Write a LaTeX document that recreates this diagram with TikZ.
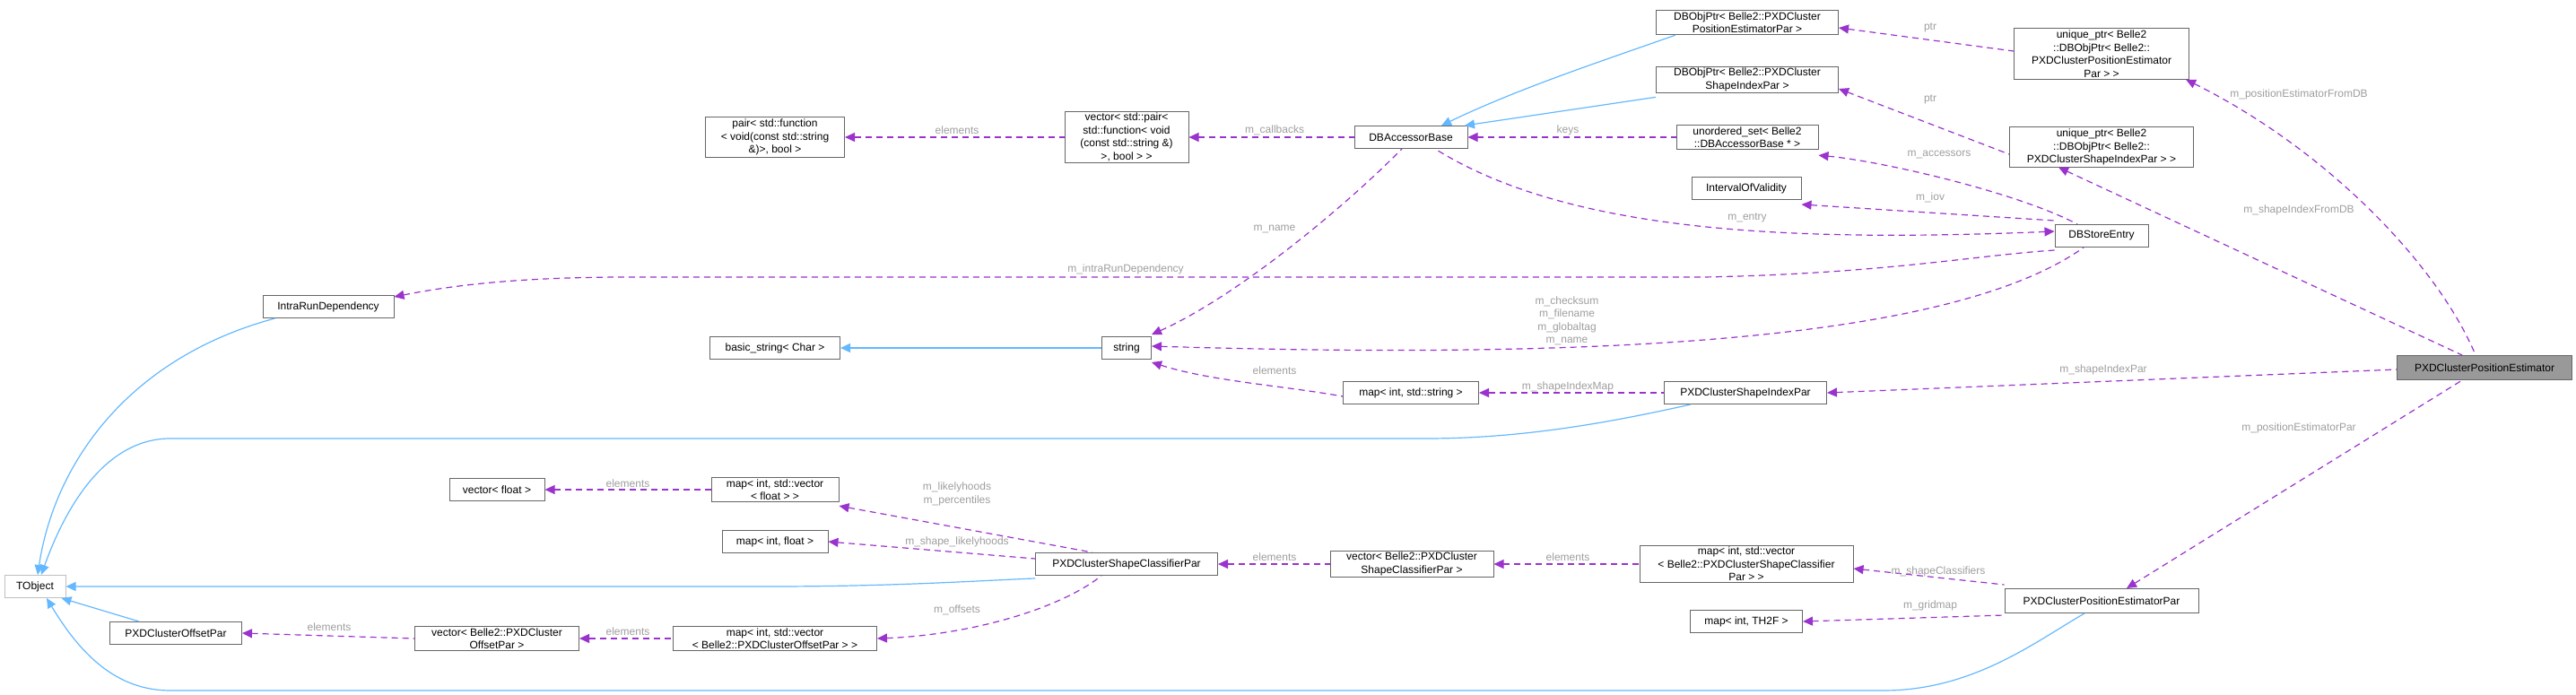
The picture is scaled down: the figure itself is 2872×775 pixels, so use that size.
\documentclass[tikz,border=0pt]{standalone}
\usepackage{fontspec}
\setmainfont{Liberation Sans}
\usetikzlibrary{arrows.meta}

\definecolor{inhblue}{HTML}{63B8FF}
\definecolor{deppurple}{HTML}{9A32CD}
\definecolor{lblgray}{HTML}{9E9E9E}

\tikzset{
  box/.style={draw=black!60, line width=1pt, fill=white, align=center, inner sep=2pt,
    font=\fontsize{12}{14.5}\selectfont, minimum height=25pt},
  tobj/.style={box, draw=black!25},
  cur/.style={box, fill=black!40},
  inh/.style={{Triangle[length=11pt,width=10pt]}-, draw=inhblue, line width=1.2pt},
  dep/.style={{Triangle[length=11pt,width=10pt]}-, draw=deppurple, line width=1.2pt, dash pattern=on 7pt off 5pt},
  lbl/.style={text=lblgray, align=center, inner sep=0pt, font=\fontsize{12}{14.5}\selectfont},
}

\begin{document}
\begin{tikzpicture}[x=1pt,y=-1pt]
\useasboundingbox (0,0) rectangle (2872,775);

% classes
\node[box, minimum width=155pt] (pair) at (864,153) {pair< std::function\\< void(const std::string\\\&)>, bool >};
\node[box, minimum width=138pt] (vpair) at (1256,153) {vector< std::pair<\\ std::function< void\\(const std::string \&)\\>, bool > >};
\node[box, minimum width=126pt] (dbab) at (1573,153) {DBAccessorBase};
\node[box, minimum width=203pt] (dbposp) at (1948,25) {DBObjPtr< Belle2::PXDCluster\\PositionEstimatorPar >};
\node[box, minimum width=203pt] (dbshp) at (1948,89) {DBObjPtr< Belle2::PXDCluster\\ShapeIndexPar >};
\node[box, minimum width=158pt] (uset) at (1948,153) {unordered\_set< Belle2\\::DBAccessorBase * >};
\node[box, minimum width=122pt] (iov) at (1947,210) {IntervalOfValidity};
\node[box, minimum width=195pt] (upos) at (2343,60) {unique\_ptr< Belle2\\::DBObjPtr< Belle2::\\PXDClusterPositionEstimator\\Par > >};
\node[box, minimum width=205pt] (ushp) at (2343,164) {unique\_ptr< Belle2\\::DBObjPtr< Belle2::\\PXDClusterShapeIndexPar > >};
\node[box, minimum width=104pt] (dbse) at (2343,263) {DBStoreEntry};
\node[box, minimum width=146pt] (ird) at (366,342) {IntraRunDependency};
\node[box, minimum width=145pt] (bstr) at (864,388) {basic\_string< Char >};
\node[box, minimum width=55pt] (str) at (1256,388) {string};
\node[box, minimum width=151pt] (mstr) at (1573,438) {map< int, std::string >};
\node[box, minimum width=181pt] (shidx) at (1946,438) {PXDClusterShapeIndexPar};
\node[cur, minimum width=195pt, minimum height=27pt] (pce) at (2770,410) {PXDClusterPositionEstimator};
\node[box, minimum width=106pt] (vflt) at (554,546) {vector< float >};
\node[box, minimum width=142pt] (mvflt) at (864,546) {map< int, std::vector\\< float > >};
\node[box, minimum width=118pt] (mflt) at (864,604) {map< int, float >};
\node[tobj, minimum width=68pt] (tobject) at (39,654) {TObject};
\node[box, minimum width=203pt] (scp) at (1256,629) {PXDClusterShapeClassifierPar};
\node[box, minimum width=182pt] (vscp) at (1574,629) {vector< Belle2::PXDCluster\\ShapeClassifierPar >};
\node[box, minimum width=238pt] (mvscp) at (1947,629) {map< int, std::vector\\< Belle2::PXDClusterShapeClassifier\\Par > >};
\node[box, minimum width=125pt] (th2f) at (1947,693) {map< int, TH2F >};
\node[box, minimum width=147pt] (ofp) at (196,706) {PXDClusterOffsetPar};
\node[box, minimum width=183pt] (voff) at (554,712) {vector< Belle2::PXDCluster\\OffsetPar >};
\node[box, minimum width=227pt] (mvoff) at (864,712) {map< int, std::vector\\< Belle2::PXDClusterOffsetPar > >};
\node[box, minimum width=216pt, minimum height=27pt] (pcep) at (2343,670) {PXDClusterPositionEstimatorPar};

% inheritance
\draw[inh] ([xshift=34pt]dbab.north) .. controls (1690,100) and (1780,70) .. ([xshift=22pt]dbposp.south west);
\draw[inh] ([xshift=60pt]dbab.north) -- ([yshift=-4pt]dbshp.south west);
\draw[inh] (bstr.east) -- (str.west);
\draw[inh] ([xshift=3pt]tobject.north) .. controls (60,520) and (140,400) .. ([xshift=14pt]ird.south west);
\draw[inh] ([xshift=7pt]tobject.north) .. controls (75,560) and (120,489) .. (190,489) -- (1590,489) .. controls (1700,489) and (1800,470) .. ([xshift=30pt]shidx.south west);
\draw[inh] (tobject.east) -- (860,654) .. controls (1000,654) and (1100,647) .. ([yshift=-3pt]scp.south west);
\draw[inh] ([xshift=-5pt]tobject.south east) -- ([xshift=-41pt]ofp.north);
\draw[inh] ([xshift=13pt]tobject.south) .. controls (90,730) and (130,770) .. (190,770) -- (2100,770) .. controls (2200,770) and (2270,715) .. ([xshift=-19pt]pcep.south);

% members
\draw[dep] (pair.east) -- (vpair.west);
\draw[dep] (vpair.east) -- (dbab.west);
\draw[dep] (dbab.east) -- (uset.west);
\draw[dep] ([yshift=2pt]str.north east) .. controls (1380,330) and (1500,230) .. ([xshift=-10pt]dbab.south);
\draw[dep] ([yshift=5pt]dbse.west) .. controls (2000,270) and (1750,260) .. ([xshift=27pt]dbab.south);
\draw[dep] ([yshift=-2pt]ird.north east) .. controls (520,315) and (600,309) .. (700,309) -- (1900,309) .. controls (2100,305) and (2200,285) .. ([yshift=-3pt]dbse.south west);
\draw[dep] ([yshift=-6pt]uset.south east) .. controls (2100,180) and (2250,215) .. ([xshift=-27pt]dbse.north);
\draw[dep] ([yshift=-5pt]iov.south east) -- ([yshift=4pt]dbse.north west);
\draw[dep] ([yshift=2pt]str.east) .. controls (1750,400) and (2170,385) .. ([xshift=-20pt]dbse.south);
\draw[dep] ([yshift=-3pt]str.south east) .. controls (1350,425) and (1430,430) .. ([yshift=-4pt]mstr.west);
\draw[dep] (mstr.east) -- (shidx.west);
\draw[dep] (shidx.east) -- ([yshift=-2pt]pce.west);
\draw[dep] ([xshift=-48pt]ushp.south) -- ([xshift=-25pt]pce.north);
\draw[dep] ([xshift=-4pt]upos.south east) .. controls (2600,170) and (2720,300) .. ([xshift=-10pt]pce.north);
\draw[dep] ([yshift=-6pt]dbposp.east) -- ([yshift=3pt]upos.west);
\draw[dep] ([yshift=-10pt]dbshp.east) -- ([yshift=-8pt]ushp.west);
\draw[dep] ([xshift=28pt]pcep.north) -- ([xshift=-25pt]pce.south);
\draw[dep] ([yshift=-5pt]mvscp.east) -- ([yshift=4pt]pcep.north west);
\draw[dep] (th2f.east) -- ([yshift=-2pt]pcep.south west);
\draw[dep] (vscp.east) -- (mvscp.west);
\draw[dep] (scp.east) -- (vscp.west);
\draw[dep] ([yshift=-4pt]mvflt.south east) -- ([xshift=-38pt]scp.north);
\draw[dep] (mflt.east) -- ([yshift=6pt]scp.west);
\draw[dep] (mvoff.east) .. controls (1080,708) and (1180,680) .. ([xshift=-28pt]scp.south);
\draw[dep] (vflt.east) -- (mvflt.west);
\draw[dep] (voff.east) -- (mvoff.west);
\draw[dep] (ofp.east) -- (voff.west);

% labels
\node[lbl] (l-el1) at (1067,145) {elements};
\node[lbl] (l-cb) at (1421,145) {m\_callbacks};
\node[lbl] (l-keys) at (1748,145) {keys};
\node[lbl] (l-name) at (1421,255) {m\_name};
\node[lbl] (l-entry) at (1948,243) {m\_entry};
\node[lbl] (l-ird) at (1255,300) {m\_intraRunDependency};
\node[lbl] (l-acc) at (2162,172) {m\_accessors};
\node[lbl] (l-iov) at (2152,220) {m\_iov};
\node[lbl] (l-chk) at (1747,358) {m\_checksum\\m\_filename\\m\_globaltag\\m\_name};
\node[lbl] (l-el2) at (1421,413) {elements};
\node[lbl] (l-sim) at (1748,431) {m\_shapeIndexMap};
\node[lbl] (l-sip) at (2345,412) {m\_shapeIndexPar};
\node[lbl] (l-sidb) at (2563,234) {m\_shapeIndexFromDB};
\node[lbl] (l-pedb) at (2563,105) {m\_positionEstimatorFromDB};
\node[lbl] (l-ptr1) at (2152,31) {ptr};
\node[lbl] (l-ptr2) at (2152,111) {ptr};
\node[lbl] (l-pep) at (2563,477) {m\_positionEstimatorPar};
\node[lbl] (l-sc) at (2161,637) {m\_shapeClassifiers};
\node[lbl] (l-gm) at (2152,675) {m\_gridmap};
\node[lbl] (l-el3) at (1748,621) {elements};
\node[lbl] (l-el4) at (1421,621) {elements};
\node[lbl] (l-lh) at (1067,551) {m\_likelyhoods\\m\_percentiles};
\node[lbl] (l-slh) at (1067,604) {m\_shape\_likelyhoods};
\node[lbl] (l-off) at (1067,680) {m\_offsets};
\node[lbl] (l-el5) at (700,539) {elements};
\node[lbl] (l-el6) at (700,704) {elements};
\node[lbl] (l-el7) at (367,699) {elements};
\end{tikzpicture}
\end{document}
